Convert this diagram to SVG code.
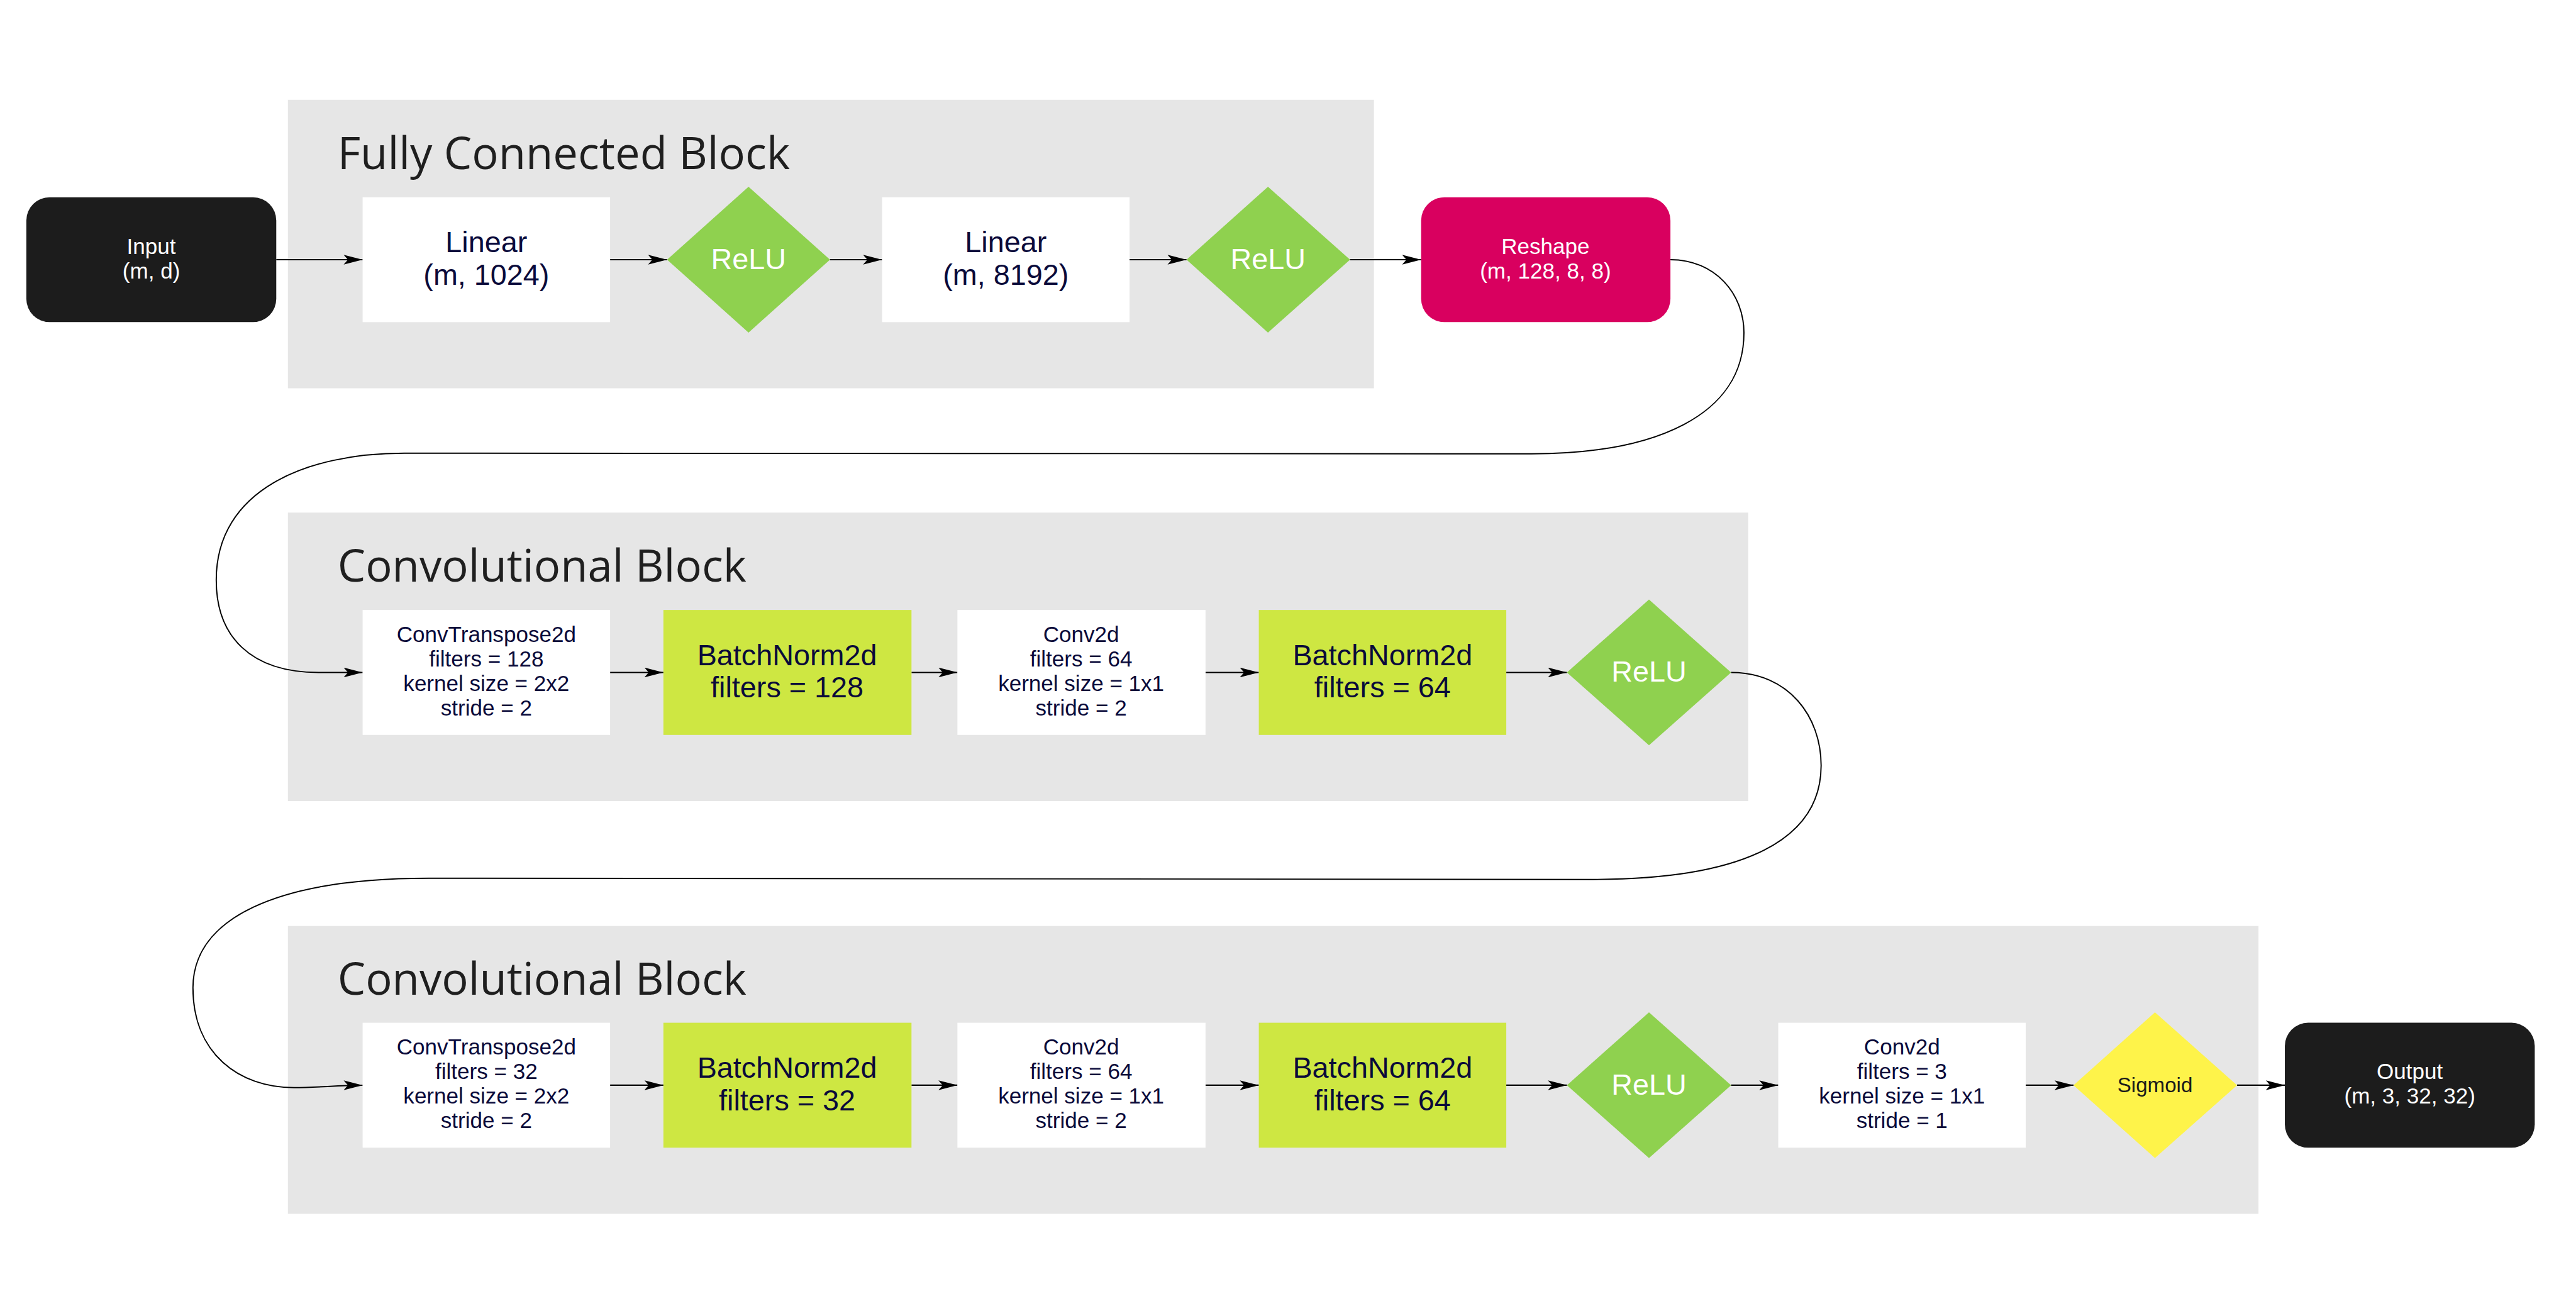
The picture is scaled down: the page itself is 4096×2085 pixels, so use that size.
<svg xmlns="http://www.w3.org/2000/svg" width="4096" height="2085" viewBox="0 0 4096 2085">
<defs>
<style>
.blk{fill:#e6e6e6}
.ttl{font-family:"Open Sans","Noto Sans",sans-serif;font-size:72.5px;fill:#1f1f1f}
.box{fill:#ffffff}
.bn{fill:#cee742}
.term{fill:#1c1c1c}
.rs{fill:#d9005f}
.relu{fill:#8fd14f}
.sig{fill:#fef34a}
.t{font-family:"Liberation Sans",Arial,sans-serif;text-anchor:middle;fill:#0a0a3a}
.w{fill:#ffffff}
.s36{font-size:36px}
.s48{font-size:48px}
.s34{font-size:34px}
.dk{fill:#1a1a1a}
.ln{stroke:#000;stroke-width:2.2;fill:none}
.cv{stroke:#000;stroke-width:2;fill:none}
</style>
<marker id="arr" viewBox="0 0 31 16" refX="31" refY="8" markerWidth="31" markerHeight="16" markerUnits="userSpaceOnUse" orient="auto">
<path d="M0,0 L31,8 L0,16 L7,8 z" fill="#000"/>
</marker>
</defs>
<rect width="4096" height="2085" fill="#ffffff"/>
<g transform="scale(0.974)">
<g id="fc-block">
<rect class="blk" x="470" y="163" width="1773" height="471"/>
<text class="ttl" x="551" y="276">Fully Connected Block</text>
</g>
<g id="conv-block-1">
<rect class="blk" x="470" y="837" width="2384" height="471"/>
<text class="ttl" x="551" y="950">Convolutional Block</text>
</g>
<g id="conv-block-2">
<rect class="blk" x="470" y="1512" width="3217" height="470"/>
<text class="ttl" x="551" y="1624">Convolutional Block</text>
</g>

<g id="connectors">
<line class="ln" x1="451" y1="424" x2="592" y2="424" marker-end="url(#arr)"/>
<line class="ln" x1="996" y1="424" x2="1089" y2="424" marker-end="url(#arr)"/>
<line class="ln" x1="1355" y1="424" x2="1440" y2="424" marker-end="url(#arr)"/>
<line class="ln" x1="1844" y1="424" x2="1937" y2="424" marker-end="url(#arr)"/>
<line class="ln" x1="2204" y1="424" x2="2320" y2="424" marker-end="url(#arr)"/>
<path class="cv" d="M2727,424 C2800,424 2847,480 2847,543 C2847,680 2700,741 2500,741 L660,740 C500,740 353,800 353,947 C353,1040 410,1098 520,1098 L592,1098" marker-end="url(#arr)"/>
<line class="ln" x1="996" y1="1098" x2="1083" y2="1098" marker-end="url(#arr)"/>
<line class="ln" x1="1488" y1="1098" x2="1563" y2="1098" marker-end="url(#arr)"/>
<line class="ln" x1="1968" y1="1098" x2="2055" y2="1098" marker-end="url(#arr)"/>
<line class="ln" x1="2459" y1="1098" x2="2558" y2="1098" marker-end="url(#arr)"/>
<path class="cv" d="M2826,1098 C2920,1098 2973,1170 2973,1250 C2973,1370 2850,1436 2600,1436 L700,1434 C450,1434 315,1500 315,1613 C315,1720 390,1776 480,1776 C520,1776 550,1772 592,1772" marker-end="url(#arr)"/>
<line class="ln" x1="996" y1="1772" x2="1083" y2="1772" marker-end="url(#arr)"/>
<line class="ln" x1="1488" y1="1772" x2="1563" y2="1772" marker-end="url(#arr)"/>
<line class="ln" x1="1968" y1="1772" x2="2055" y2="1772" marker-end="url(#arr)"/>
<line class="ln" x1="2459" y1="1772" x2="2558" y2="1772" marker-end="url(#arr)"/>
<line class="ln" x1="2826" y1="1772" x2="2903" y2="1772" marker-end="url(#arr)"/>
<line class="ln" x1="3307" y1="1772" x2="3385" y2="1772" marker-end="url(#arr)"/>
<line class="ln" x1="3652" y1="1772" x2="3730" y2="1772" marker-end="url(#arr)"/>
</g>

<g id="input">
<rect class="term" x="43" y="322" width="408" height="204" rx="38" ry="38"/>
<text class="t w s36"><tspan x="247" y="415">Input</tspan><tspan x="247" y="455">(m, d)</tspan></text>
</g>
<g id="linear1">
<rect class="box" x="592" y="322" width="404" height="204"/>
<text class="t s48"><tspan x="794" y="412">Linear</tspan><tspan x="794" y="465">(m, 1024)</tspan></text>
</g>
<g id="relu1">
<polygon class="relu" points="1222,305 1355,424 1222,543 1089,424"/>
<text class="t w s48" x="1222" y="439">ReLU</text>
</g>
<g id="linear2">
<rect class="box" x="1440" y="322" width="404" height="204"/>
<text class="t s48"><tspan x="1642" y="412">Linear</tspan><tspan x="1642" y="465">(m, 8192)</tspan></text>
</g>
<g id="relu2">
<polygon class="relu" points="2070,305 2204,424 2070,543 1937,424"/>
<text class="t w s48" x="2070" y="439">ReLU</text>
</g>
<g id="reshape">
<rect class="rs" x="2320" y="322" width="407" height="204" rx="38" ry="38"/>
<text class="t w s36"><tspan x="2523" y="415">Reshape</tspan><tspan x="2523" y="455">(m, 128, 8, 8)</tspan></text>
</g>

<g id="convT1">
<rect class="box" x="592" y="996" width="404" height="204"/>
<text class="t s36"><tspan x="794" y="1048">ConvTranspose2d</tspan><tspan x="794" y="1088">filters = 128</tspan><tspan x="794" y="1128">kernel size = 2x2</tspan><tspan x="794" y="1168">stride = 2</tspan></text>
</g>
<g id="bn1">
<rect class="bn" x="1083" y="996" width="405" height="204"/>
<text class="t s48"><tspan x="1285" y="1086">BatchNorm2d</tspan><tspan x="1285" y="1139">filters = 128</tspan></text>
</g>
<g id="conv1">
<rect class="box" x="1563" y="996" width="405" height="204"/>
<text class="t s36"><tspan x="1765" y="1048">Conv2d</tspan><tspan x="1765" y="1088">filters = 64</tspan><tspan x="1765" y="1128">kernel size = 1x1</tspan><tspan x="1765" y="1168">stride = 2</tspan></text>
</g>
<g id="bn2">
<rect class="bn" x="2055" y="996" width="404" height="204"/>
<text class="t s48"><tspan x="2257" y="1086">BatchNorm2d</tspan><tspan x="2257" y="1139">filters = 64</tspan></text>
</g>
<g id="relu3">
<polygon class="relu" points="2692,979 2826,1098 2692,1217 2558,1098"/>
<text class="t w s48" x="2692" y="1113">ReLU</text>
</g>

<g id="convT2">
<rect class="box" x="592" y="1670" width="404" height="204"/>
<text class="t s36"><tspan x="794" y="1722">ConvTranspose2d</tspan><tspan x="794" y="1762">filters = 32</tspan><tspan x="794" y="1802">kernel size = 2x2</tspan><tspan x="794" y="1842">stride = 2</tspan></text>
</g>
<g id="bn3">
<rect class="bn" x="1083" y="1670" width="405" height="204"/>
<text class="t s48"><tspan x="1285" y="1760">BatchNorm2d</tspan><tspan x="1285" y="1813">filters = 32</tspan></text>
</g>
<g id="conv2">
<rect class="box" x="1563" y="1670" width="405" height="204"/>
<text class="t s36"><tspan x="1765" y="1722">Conv2d</tspan><tspan x="1765" y="1762">filters = 64</tspan><tspan x="1765" y="1802">kernel size = 1x1</tspan><tspan x="1765" y="1842">stride = 2</tspan></text>
</g>
<g id="bn4">
<rect class="bn" x="2055" y="1670" width="404" height="204"/>
<text class="t s48"><tspan x="2257" y="1760">BatchNorm2d</tspan><tspan x="2257" y="1813">filters = 64</tspan></text>
</g>
<g id="relu4">
<polygon class="relu" points="2692,1653 2826,1772 2692,1891 2558,1772"/>
<text class="t w s48" x="2692" y="1787">ReLU</text>
</g>
<g id="conv3">
<rect class="box" x="2903" y="1670" width="404" height="204"/>
<text class="t s36"><tspan x="3105" y="1722">Conv2d</tspan><tspan x="3105" y="1762">filters = 3</tspan><tspan x="3105" y="1802">kernel size = 1x1</tspan><tspan x="3105" y="1842">stride = 1</tspan></text>
</g>
<g id="sigmoid">
<polygon class="sig" points="3518,1653 3652,1772 3518,1891 3385,1772"/>
<text class="t dk s34" x="3518" y="1783">Sigmoid</text>
</g>
<g id="output">
<rect class="term" x="3730" y="1670" width="408" height="204" rx="38" ry="38"/>
<text class="t w s36"><tspan x="3934" y="1762">Output</tspan><tspan x="3934" y="1802">(m, 3, 32, 32)</tspan></text>
</g>
</g>
</svg>
